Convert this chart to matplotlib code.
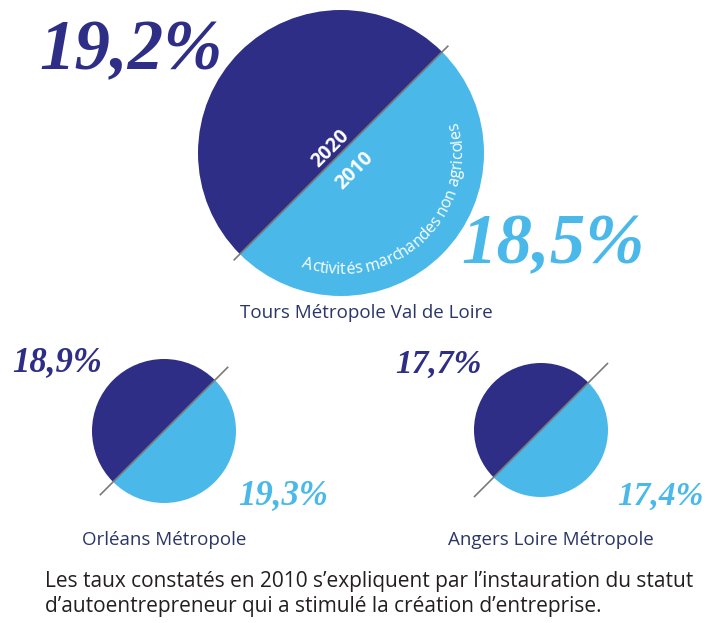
import matplotlib
matplotlib.use("Agg")
import matplotlib.pyplot as plt
from matplotlib.patches import Wedge
from matplotlib.font_manager import FontProperties, findfont
from matplotlib.ft2font import FT2Font
import numpy as np

# data
cities = ["Tours Métropole Val de Loire", "Orléans Métropole", "Angers Loire Métropole"]
rate_2020 = [19.2, 18.9, 17.7]
rate_2010 = [18.5, 19.3, 17.4]
inner_years = ["2020", "2010"]
sector_label = "Activités marchandes non agricoles"
footnote = ("Les taux constatés en 2010 s\u2019expliquent par l\u2019instauration du statut\n"
            "d\u2019autoentrepreneur qui a stimulé la création d\u2019entreprise.")

DARK = "#2e2e86"
LIGHT = "#4ab9ea"
LABEL = "#2b3566"
W, H = 721, 623

# layout in pixel coords (y measured from top)
centers = [(341, 153), (164, 431), (541, 430)]
radii = [143, 72, 67]
line_half = [151, 90, 94]
pos_2020 = [(131, 52), (57, 363), (438, 364)]
pos_2010 = [(553, 246), (283, 496), (660, 496)]
pct_size = [51, 25, 24]
label_pos = [(366, 313), (164, 540), (551, 540)]


def fmt(v):
    return f"{v:.1f}".replace(".", ",") + "%"


fig = plt.figure(figsize=(W / 100, H / 100), dpi=100)
ax = fig.add_axes([0, 0, 1, 1])
ax.set_xlim(0, W)
ax.set_ylim(0, H)
ax.axis("off")

pct_font = dict(family="Liberation Serif", style="italic", weight="bold")

for i, city in enumerate(cities):
    cx, cy = centers[i][0], H - centers[i][1]
    r = radii[i]
    ax.add_patch(Wedge((cx, cy), r, 45, 225, facecolor=DARK, edgecolor="none"))
    ax.add_patch(Wedge((cx, cy), r, 225, 405, facecolor=LIGHT, edgecolor="none"))
    d = line_half[i] / np.sqrt(2)
    ax.plot([cx - d, cx + d], [cy - d, cy + d], color="#7a7a7a", lw=1.2)

    x, y = pos_2020[i]
    ax.text(x, H - y, fmt(rate_2020[i]), color=DARK, fontsize=pct_size[i],
            ha="center", va="center", **pct_font)
    x, y = pos_2010[i]
    ax.text(x, H - y, fmt(rate_2010[i]), color=LIGHT, fontsize=pct_size[i],
            ha="center", va="center", **pct_font)

    x, y = label_pos[i]
    ax.text(x, H - y, city, color=LABEL, fontsize=13.5, family="Open Sans",
            ha="center", va="center")

# years on the split of the big circle
ax.text(331, H - 149, inner_years[0], color="white", fontsize=14, weight="bold",
        family="Open Sans", rotation=45, ha="center", va="center")
ax.text(355, H - 171, inner_years[1], color="white", fontsize=14, weight="bold",
        family="Open Sans", rotation=45, ha="center", va="center")

# curved label inside the light half, one glyph at a time
size_arc = 11.5
fp = FontProperties(family="Open Sans", size=size_arc)
ft = FT2Font(findfont(fp))
ft.set_size(size_arc, 100)
glyphs = [ft.load_char(ord(ch)) for ch in sector_label]
adv = [g.linearHoriAdvance / 65536 for g in glyphs]
starts = np.concatenate([[0], np.cumsum(adv)])
total = starts[-1]
cx, cy = centers[0][0], H - centers[0][1]
r_txt = 121
theta_c = np.radians(-47)
for k, ch in enumerate(sector_label):
    if ch == " ":
        continue
    g = glyphs[k]
    ink_mid = starts[k] + (g.horiBearingX + g.width / 2) / 64
    th = theta_c + (ink_mid - total / 2) / r_txt
    ax.text(cx + r_txt * np.cos(th), cy + r_txt * np.sin(th), ch, color="white",
            fontproperties=fp, rotation=np.degrees(th) + 90, rotation_mode="anchor",
            ha="center", va="baseline")

ax.text(45, H - 594, footnote, color="#231f20", fontsize=15, family="Open Sans",
        ha="left", va="center", linespacing=1.2)

fig.savefig("out.png", dpi=100)
